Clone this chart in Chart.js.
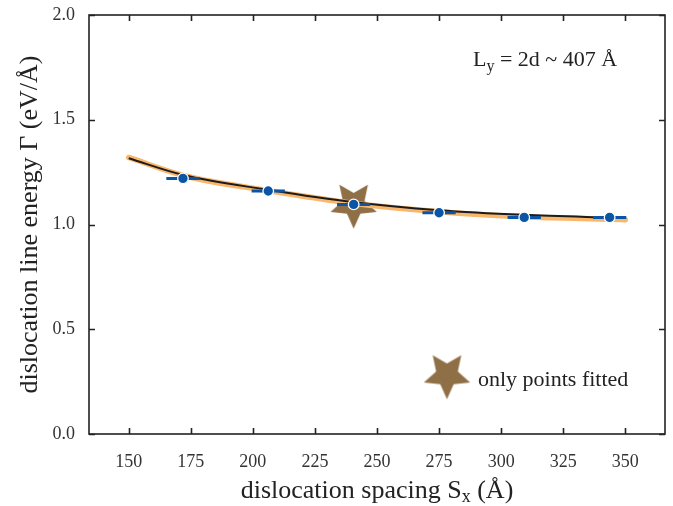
<!DOCTYPE html>
<html><head><meta charset="utf-8">
<script src="https://cdn.jsdelivr.net/npm/chart.js@4"></script>
<style>html,body{margin:0;padding:0;background:#fff}#wrap{width:673px;height:506px;position:relative}</style>
</head><body><div id="wrap"><canvas id="c" width="673" height="506"></canvas></div>
<script>
// ---- data ----
const spacing = [171.85, 206.2, 240.6, 275.0, 309.3, 343.7];
const energy = [1.220, 1.160, 1.096, 1.056, 1.034, 1.034];
const spacingErr = [6.7, 6.7, 6.7, 6.7, 6.7, 6.7];
const fittedSpacing = [240.6];
const fittedEnergy = [1.096];
const curveX = [150, 172, 206, 241, 275, 309, 344, 350];
const fitBlack = [1.316, 1.236, 1.166, 1.106, 1.068, 1.046, 1.033, 1.031];
const fitOrange = [1.320, 1.234, 1.162, 1.100, 1.061, 1.037, 1.025, 1.023];
const xTicks = [150, 175, 200, 225, 250, 275, 300, 325, 350];
const yTicks = [0.0, 0.5, 1.0, 1.5, 2.0];
const xTitle = ['dislocation spacing S', 'x', ' (Å)'];
const yTitle = 'dislocation line energy Γ (eV/Å)';
const annot = ['L', 'y', ' = 2d ~ 407 Å'];
const legendText = 'only points fitted';

const SERIF = '"Liberation Serif", "DejaVu Serif", serif';
const STAR_COLOR = '#8f6f46';
const BLUE = '#0a55a6';

function makeStar(R, ratio, color) {
  const s = Math.ceil(R * 2 + 4);
  const cv = document.createElement('canvas');
  cv.width = s; cv.height = s;
  const g = cv.getContext('2d');
  const cx = s / 2, cy = s / 2;
  g.beginPath();
  for (let i = 0; i < 10; i++) {
    const r = i % 2 === 0 ? R : R * ratio;
    const a = Math.PI / 2 + i * Math.PI / 5;   // one point downward
    const px = cx + r * Math.cos(a), py = cy + r * Math.sin(a);
    if (i === 0) g.moveTo(px, py); else g.lineTo(px, py);
  }
  g.closePath();
  g.fillStyle = color;
  g.fill();
  return cv;
}
const starImg = makeStar(24.3, 0.47, STAR_COLOR);

const pts = spacing.map((x, i) => ({x, y: energy[i]}));
const errData = [];
spacing.forEach((x, i) => {
  errData.push({x: x - spacingErr[i], y: energy[i]});
  errData.push({x: x + spacingErr[i], y: energy[i]});
  errData.push({x: x + spacingErr[i], y: null});
});

const framePlugin = {
  id: 'frame',
  afterDatasetsDraw(chart) {
    const {ctx, chartArea: a, scales} = chart;
    ctx.save();
    ctx.strokeStyle = '#222';
    ctx.lineWidth = 1.6;
    ctx.strokeRect(a.left, a.top, a.right - a.left, a.bottom - a.top);
    const L = 6;
    ctx.beginPath();
    xTicks.forEach(v => {
      const p = Math.round(scales.x.getPixelForValue(v)) + 0.5;
      ctx.moveTo(p, a.bottom); ctx.lineTo(p, a.bottom - L);
      ctx.moveTo(p, a.top); ctx.lineTo(p, a.top + L);
    });
    yTicks.forEach(v => {
      const p = Math.round(scales.y.getPixelForValue(v)) + 0.5;
      ctx.moveTo(a.left, p); ctx.lineTo(a.left + L, p);
      ctx.moveTo(a.right, p); ctx.lineTo(a.right - L, p);
    });
    ctx.stroke();
    ctx.restore();
  },
  afterDraw(chart) {
    const {ctx, chartArea: a} = chart;
    ctx.save();
    ctx.fillStyle = '#222';
    ctx.textBaseline = 'alphabetic';
    // x title with subscript
    const big = '26px ' + SERIF, small = '18px ' + SERIF;
    ctx.font = big; const w1 = ctx.measureText(xTitle[0]).width; const w3 = ctx.measureText(xTitle[2]).width;
    ctx.font = small; const w2 = ctx.measureText(xTitle[1]).width;
    let x0 = (a.left + a.right) / 2 - (w1 + w2 + w3) / 2;
    const yb = 498;
    ctx.font = big; ctx.textAlign = 'left'; ctx.fillText(xTitle[0], x0, yb);
    ctx.font = small; ctx.fillText(xTitle[1], x0 + w1, yb + 4);
    ctx.font = big; ctx.fillText(xTitle[2], x0 + w1 + w2, yb);
    // y title
    ctx.save();
    ctx.translate(37, (a.top + a.bottom) / 2);
    ctx.rotate(-Math.PI / 2);
    ctx.textAlign = 'center';
    ctx.font = big;
    ctx.fillText(yTitle, 0, 0);
    ctx.restore();
    // annotation L_y = 2d ~ 407 Å
    const af = '22px ' + SERIF, as = '16px ' + SERIF;
    let ax = 473; const ay = 66;
    ctx.textAlign = 'left';
    ctx.font = af; ctx.fillText(annot[0], ax, ay); ax += ctx.measureText(annot[0]).width;
    ctx.font = as; ctx.fillText(annot[1], ax, ay + 5); ax += ctx.measureText(annot[1]).width;
    ctx.font = af; ctx.fillText(annot[2], ax, ay);
    // legend
    ctx.drawImage(starImg, 447 - starImg.width / 2, 375 - starImg.height / 2);
    ctx.font = '22px ' + SERIF;
    ctx.fillText(legendText, 478, 386);
    ctx.restore();
  }
};

new Chart(document.getElementById('c'), {
  type: 'line',
  data: {
    datasets: [
      { label: 'fitted', data: fittedSpacing.map((x, i) => ({x, y: fittedEnergy[i]})),
        showLine: false, pointStyle: starImg, pointRadius: 24, order: 10 },
      { label: 'fit orange', data: curveX.map((x, i) => ({x, y: fitOrange[i]})),
        borderColor: '#fab76c', borderWidth: 5.5, pointRadius: 0, cubicInterpolationMode: 'monotone',
        borderCapStyle: 'round', order: 9 },
      { label: 'fit black', data: curveX.map((x, i) => ({x, y: fitBlack[i]})),
        borderColor: '#1c1c1c', borderWidth: 2, pointRadius: 0, cubicInterpolationMode: 'monotone', order: 8 },
      { label: 'err', data: errData, borderColor: BLUE, borderWidth: 3, pointRadius: 0, spanGaps: false,
        tension: 0, order: 7 },
      { label: 'Gamma', data: pts, showLine: false, pointRadius: 5.3, pointBackgroundColor: BLUE,
        pointBorderColor: '#fff', pointBorderWidth: 1.3, order: 6 }
    ]
  },
  options: {
    responsive: false, animation: false, devicePixelRatio: 1,
    layout: {autoPadding: false, padding: {top: 15, right: 8, left: 0, bottom: 0}},
    plugins: {legend: {display: false}, tooltip: {enabled: false}},
    scales: {
      x: {
        type: 'linear', min: 134, max: 366,
        afterBuildTicks: s => { s.ticks = xTicks.map(v => ({value: v})); },
        afterFit: s => { s.height = 72; s.paddingLeft = 0; s.paddingRight = 0; },
        grid: {display: false, drawTicks: false}, border: {display: false},
        ticks: {color: '#333', padding: 17, font: {family: SERIF, size: 18}, maxRotation: 0}
      },
      y: {
        type: 'linear', min: 0, max: 2,
        afterBuildTicks: s => { s.ticks = yTicks.map(v => ({value: v})); },
        afterFit: s => { s.width = 89; s.paddingTop = 0; s.paddingBottom = 0; },
        grid: {display: false, drawTicks: false}, border: {display: false},
        ticks: {color: '#333', padding: 14, font: {family: SERIF, size: 18}, callback: v => v.toFixed(1)}
      }
    }
  },
  plugins: [framePlugin]
});
</script>
</body></html>
